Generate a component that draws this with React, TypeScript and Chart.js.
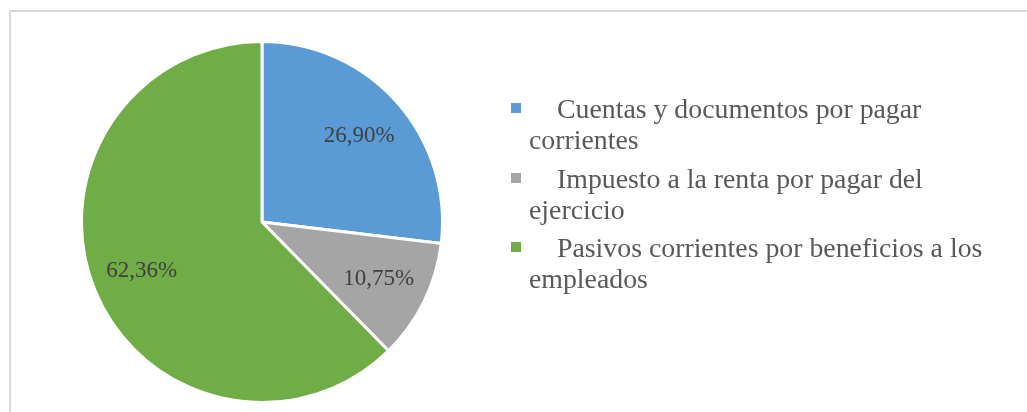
import React, { useEffect, useRef } from "react";
import { Chart, registerables } from "chart.js";

Chart.register(...registerables);

const categories = [
  "Cuentas y documentos por pagar corrientes",
  "Impuesto a la renta por pagar del ejercicio",
  "Pasivos corrientes por beneficios a los empleados",
];
const shares = [26.9, 10.75, 62.36];
const colors = ["#5B9BD5", "#A5A5A5", "#70AD47"];

const SERIF = '"Liberation Serif", "Times New Roman", Times, serif';

const fmt = (v: number) => v.toFixed(2).replace(".", ",") + "%";

const labelPlugin = {
  id: "sliceLabels",
  afterDatasetsDraw(chart: any) {
    const ctx = chart.ctx;
    const meta = chart.getDatasetMeta(0);
    ctx.save();
    ctx.font = `23px ${SERIF}`;
    ctx.fillStyle = "#404040";
    ctx.textAlign = "center";
    ctx.textBaseline = "middle";
    meta.data.forEach((arc: any, i: number) => {
      const { x, y, startAngle, endAngle, outerRadius } = arc.getProps(
        ["x", "y", "startAngle", "endAngle", "outerRadius"],
        true
      );
      const mid = (startAngle + endAngle) / 2;
      const r = outerRadius * 0.72;
      ctx.fillText(fmt(shares[i]), x + Math.cos(mid) * r, y + Math.sin(mid) * r);
    });
    ctx.restore();
  },
};

export default function App() {
  const canvasRef = useRef<HTMLCanvasElement | null>(null);

  useEffect(() => {
    if (!canvasRef.current) return;
    const chart = new Chart(canvasRef.current, {
      type: "pie",
      data: {
        labels: categories,
        datasets: [
          {
            data: shares,
            backgroundColor: colors,
            borderColor: "#FFFFFF",
            borderWidth: 3,
          },
        ],
      },
      options: {
        animation: false,
        responsive: false,
        maintainAspectRatio: false,
        layout: { padding: { left: 80, top: 40, right: 583, bottom: 8 } },
        plugins: {
          legend: { display: false },
          tooltip: { enabled: false },
        },
      },
      plugins: [labelPlugin],
    });
    return () => chart.destroy();
  }, []);

  return (
    <div
      style={{
        position: "fixed",
        left: 0,
        top: 0,
        width: 1027,
        height: 412,
        overflow: "hidden",
        background: "#FFFFFF",
      }}
    >
      <div
        style={{
          position: "absolute",
          left: 9,
          top: 10,
          width: 1040,
          height: 420,
          border: "2px solid #D9D9D9",
          boxSizing: "border-box",
        }}
      />
      <canvas
        ref={canvasRef}
        width={1027}
        height={412}
        style={{ position: "absolute", left: 0, top: 0, width: 1027, height: 412 }}
      />
      <div
        style={{
          position: "absolute",
          left: 529,
          top: 93,
          width: 475,
          fontFamily: SERIF,
          fontSize: 27.8,
          lineHeight: "31px",
          color: "#595959",
        }}
      >
        {categories.map((c, i) => (
          <div
            key={c}
            style={{ position: "relative", textIndent: 28, marginBottom: 7.5 }}
          >
            <span
              style={{
                position: "absolute",
                left: -18,
                top: 10,
                width: 10,
                height: 10,
                background: colors[i],
              }}
            />
            {c}
          </div>
        ))}
      </div>
    </div>
  );
}
